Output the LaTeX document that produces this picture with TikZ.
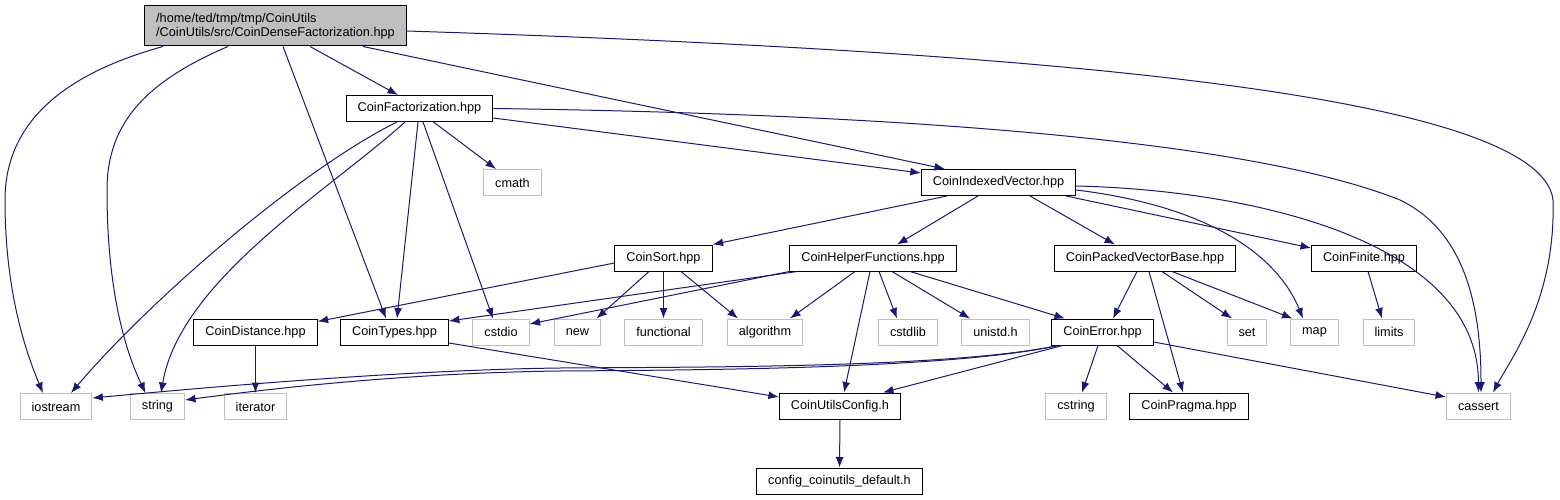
\documentclass[tikz,border=0pt]{standalone}
\usepackage{fontspec}
\setmainfont{Liberation Sans}
\usetikzlibrary{arrows.meta}
\definecolor{edgeblue}{HTML}{191970}
\definecolor{boxgray}{HTML}{BFBFBF}
\begin{document}
\begin{tikzpicture}[
x=1pt, y=-1pt,
every node/.style={
draw,
line width=1pt,
font=\fontsize{12.7}{14.5}\selectfont,
inner xsep=11.5pt,
inner ysep=0pt,
minimum height=26pt
},
sys/.style={draw=boxgray},
dep/.style={draw=edgeblue, line width=1pt, -{Latex[length=10.5pt,width=8pt]}}
]

\useasboundingbox (0,0) rectangle (1560,500);

\node[fill=boxgray, align=left, minimum height=40pt] (Root) at (275.5,26)
{/home/ted/tmp/tmp/CoinUtils\\/CoinUtils/src/CoinDenseFactorization.hpp};

\node (Fact) at (419.5,108.5) {CoinFactorization.hpp};
\node[sys] (cmath) at (512.5,182.5) {cmath};
\node (IdxVec) at (998.5,182.5) {CoinIndexedVector.hpp};

\node (Sort) at (663.5,258) {CoinSort.hpp};
\node (Helper) at (873,258) {CoinHelperFunctions.hpp};
\node (PackVec) at (1145,258) {CoinPackedVectorBase.hpp};
\node (Finite) at (1364,258) {CoinFinite.hpp};

\node (Dist) at (255.5,332) {CoinDistance.hpp};
\node (Types) at (394.5,332) {CoinTypes.hpp};
\node[sys] (cstdio) at (501,332) {cstdio};
\node[sys] (new) at (577.5,332) {new};
\node[sys] (functional) at (663.5,332) {functional};
\node[sys] (algorithm) at (765,332) {algorithm};
\node[sys] (cstdlib) at (908,332) {cstdlib};
\node[sys] (unistd) at (995.5,332) {unistd.h};
\node (Error) at (1102.5,332) {CoinError.hpp};
\node[sys] (set) at (1247,332) {set};
\node[sys] (map) at (1314.5,332) {map};
\node[sys] (limits) at (1389,332) {limits};

\node[sys] (iostream) at (56,406.5) {iostream};
\node[sys] (string) at (157.5,406.5) {string};
\node[sys] (iterator) at (255.5,406.5) {iterator};
\node (Config) at (840,406) {CoinUtilsConfig.h};
\node[sys] (cstring) at (1076,406) {cstring};
\node (Pragma) at (1189,406) {CoinPragma.hpp};
\node[sys] (cassert) at (1478.5,406) {cassert};

\node (Default) at (839.5,481) {config\_coinutils\_default.h};

% root file
\draw[dep] ([xshift=-112.5pt]Root.south) .. controls (60,75) and (5,125) .. (5,200)
  .. controls (5,290) and (25,350) .. ([xshift=-13pt]iostream.north);
\draw[dep] ([xshift=-47.5pt]Root.south) .. controls (150,80) and (107,120) .. (107,190)
  .. controls (107,290) and (125,350) .. ([xshift=-12pt]string.north);
\draw[dep] ([xshift=7.5pt]Root.south) -- ([xshift=-8.5pt]Types.north);
\draw[dep] ([xshift=34.5pt]Root.south) -- ([xshift=-21.5pt]Fact.north);
\draw[dep] ([xshift=87.5pt]Root.south) -- ([xshift=-53.5pt]IdxVec.north);
\draw[dep] ([yshift=-5pt]Root.east) .. controls (1000,50) and (1540,90) .. (1553,200)
  .. controls (1556,300) and (1510,360) .. ([xshift=14.5pt]cassert.north);

% CoinFactorization
\draw[dep] ([xshift=-22.5pt]Fact.south) .. controls (300,170) and (150,300) .. ([xshift=15pt]iostream.north);
\draw[dep] ([xshift=-14.5pt]Fact.south) .. controls (330,190) and (180,280) .. ([xshift=3.5pt]string.north);
\draw[dep] ([xshift=-1.5pt]Fact.south) -- ([xshift=2.5pt]Types.north);
\draw[dep] ([xshift=3.5pt]Fact.south) -- ([xshift=-8pt]cstdio.north);
\draw[dep] ([xshift=14pt]Fact.south) -- ([xshift=-16.5pt]cmath.north);
\draw[dep] ([yshift=-9.5pt]Fact.east) -- ([yshift=9.5pt]IdxVec.west);
\draw[dep] (Fact.east) .. controls (900,114) and (1250,140) .. (1400,200)
  .. controls (1462,230) and (1481,300) .. ([xshift=2.5pt]cassert.north);

% CoinIndexedVector
\draw[dep] ([xshift=-51.5pt]IdxVec.south) -- (Sort.north east);
\draw[dep] ([xshift=-20.5pt]IdxVec.south) -- ([xshift=24pt]Helper.north);
\draw[dep] ([xshift=31.5pt]IdxVec.south) -- ([xshift=-30pt]PackVec.north);
\draw[dep] ([xshift=-10pt]IdxVec.south east) -- ([yshift=10pt]Finite.west);
\draw[dep] ([yshift=-7.5pt]IdxVec.east) .. controls (1200,205) and (1275,250) .. ([xshift=-11.5pt]map.north);
\draw[dep] ([yshift=-3.5pt]IdxVec.east) .. controls (1250,190) and (1478,240) .. (cassert.north);

% CoinSort
\draw[dep] ([yshift=-5pt]Sort.west) -- ([yshift=-3pt]Dist.north east);
\draw[dep] ([xshift=-14.5pt]Sort.south) -- ([xshift=19pt]new.north);
\draw[dep] (Sort.south) -- (functional.north);
\draw[dep] ([xshift=17.5pt]Sort.south) -- ([xshift=-27pt]algorithm.north);

% CoinHelperFunctions
\draw[dep] ([xshift=8pt]Helper.south west) -- ([yshift=11pt]Types.east);
\draw[dep] (Helper.south west) -- ([yshift=8pt]cstdio.east);
\draw[dep] ([xshift=-18pt]Helper.south) -- ([xshift=25pt]algorithm.north);
\draw[dep] ([xshift=-3pt]Helper.south) -- ([xshift=4pt]Config.north);
\draw[dep] ([xshift=6pt]Helper.south) -- ([xshift=-11pt]cstdlib.north);
\draw[dep] ([xshift=19pt]Helper.south) -- ([xshift=-25.5pt]unistd.north);
\draw[dep] ([xshift=37pt]Helper.south) -- ([xshift=-37.5pt]Error.north);

% CoinPackedVectorBase
\draw[dep] ([xshift=-8pt]PackVec.south) -- ([xshift=10.5pt]Error.north);
\draw[dep] ([xshift=4pt]PackVec.south) -- ([xshift=-6pt]Pragma.north);
\draw[dep] ([xshift=17pt]PackVec.south) -- ([xshift=-15pt]set.north);
\draw[dep] ([xshift=27pt]PackVec.south) -- ([xshift=-22pt]map.north);

\draw[dep] ([xshift=4pt]Finite.south) -- ([xshift=-7pt]limits.north);
\draw[dep] (Dist.south) -- (iterator.north);
\draw[dep] ([yshift=-11pt]Types.east) -- ([yshift=9pt]Config.west);

% CoinError
\draw[dep] ([xshift=7pt]Error.south west) .. controls (950,368) and (700,367) .. (560,368)
  .. controls (400,370) and (200,388) .. ([yshift=8.5pt]iostream.east);
\draw[dep] ([xshift=7pt]Error.south west) .. controls (950,369) and (700,370) .. (560,371)
  .. controls (400,373) and (260,390) .. ([yshift=6.5pt]string.east);
\draw[dep] ([xshift=-40pt]Error.south) -- ([xshift=43pt]Config.north);
\draw[dep] ([xshift=-4.5pt]Error.south) -- ([xshift=6pt]cstring.north);
\draw[dep] ([xshift=14.5pt]Error.south) -- ([xshift=-16pt]Pragma.north);
\draw[dep] ([yshift=-10pt]Error.east) -- ([yshift=9pt]cassert.west);

\draw[dep] (Config.south) -- (Default.north);

\end{tikzpicture}
\end{document}
